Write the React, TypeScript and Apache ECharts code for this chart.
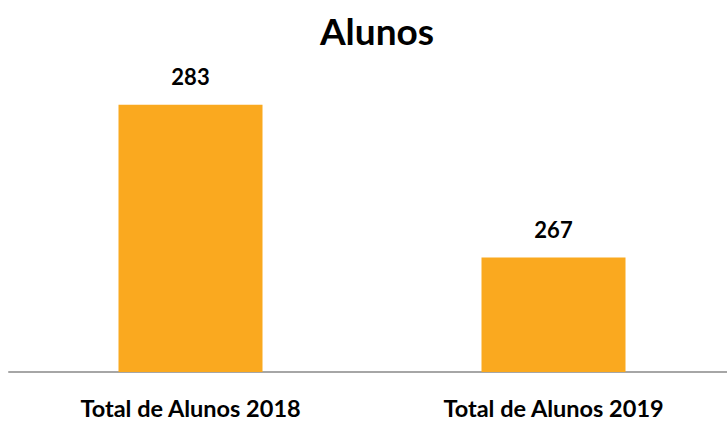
import React, { useEffect, useRef } from "react";
import * as echarts from "echarts";

const categories = ["Total de Alunos 2018", "Total de Alunos 2019"];
const values = [283, 267];
const chartTitle = "Alunos";

export default function App() {
  const ref = useRef<HTMLDivElement>(null);
  useEffect(() => {
    if (!ref.current) return;
    const chart = echarts.init(ref.current, undefined, { renderer: "svg" });
    const font = "Lato, 'Open Sans', sans-serif";
    chart.setOption({
      animation: false,
      backgroundColor: "#ffffff",
      title: {
        text: chartTitle,
        left: 372,
        textAlign: "center",
        top: 7,
        textStyle: { fontFamily: font, fontWeight: "bold", fontSize: 37, color: "#000" },
      },
      grid: { left: 9, width: 726, top: 38, bottom: 49, containLabel: false, outerBoundsMode: "none" },
      xAxis: {
        type: "category",
        data: categories,
        axisLine: { show: true, lineStyle: { color: "#A6A6A6", width: 2 } },
        axisTick: { show: false },
        axisLabel: {
          margin: 25,
          fontFamily: font,
          fontWeight: "bold",
          fontSize: 23.5,
          lineHeight: 22,
          color: "#000",
        },
      },
      yAxis: {
        type: "value",
        min: 255,
        max: 290,
        show: false,
        splitLine: { show: false },
      },
      series: [
        {
          type: "bar",
          data: values,
          barWidth: 144,
          itemStyle: { color: "#FAA91F" },
          label: {
            show: true,
            position: "top",
            distance: 17,
            fontFamily: font,
            fontWeight: "bold",
            fontSize: 22,
            color: "#000",
          },
        },
      ],
    });
    return () => chart.dispose();
  }, []);
  return <div ref={ref} style={{ width: 727, height: 421, position: "absolute", left: 0, top: 0 }} />;
}
